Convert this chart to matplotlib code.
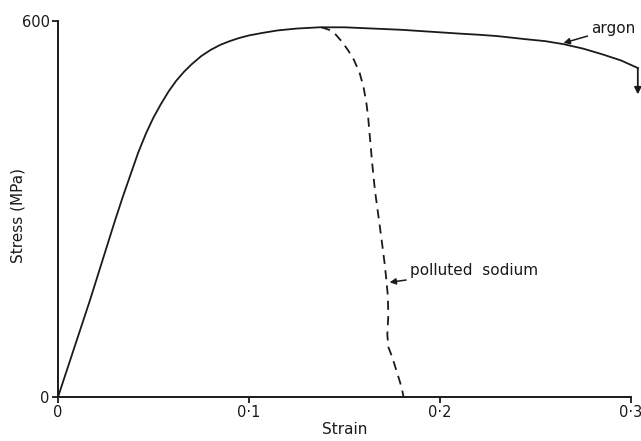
import matplotlib.pyplot as plt

# tensile curves: strain (-) vs stress (MPa)
argon_strain = [0.0, 0.0168, 0.030, 0.034, 0.038, 0.042, 0.046, 0.050,
                0.054, 0.058, 0.062, 0.066, 0.070, 0.075, 0.080, 0.085,
                0.090, 0.095, 0.100, 0.107, 0.115, 0.125, 0.137, 0.150,
                0.165, 0.180, 0.195, 0.210, 0.221, 0.230, 0.245, 0.255,
                0.265, 0.275, 0.285, 0.295, 0.3037]
argon_stress = [0, 155, 283, 320, 355, 390, 420, 446,
                468, 488, 505, 519, 531, 544, 554, 562,
                568, 573, 577, 581, 585, 588, 590, 590,
                588, 586, 583, 580, 578, 576, 571, 568,
                563, 556, 547, 537, 525]
argon_end_stress = 483

sodium_strain = [0.138, 0.142, 0.145, 0.149, 0.152, 0.155, 0.158, 0.160,
                 0.1615, 0.1625, 0.1635, 0.1645, 0.166, 0.168, 0.1695,
                 0.171, 0.172, 0.1728, 0.173, 0.1725, 0.173, 0.175, 0.1775,
                 0.180, 0.181]
sodium_stress = [590, 586, 580, 566, 553, 538, 517, 495,
                 470, 445, 410, 375, 330, 285, 251,
                 215, 187, 160, 130, 100, 80, 64, 40,
                 15, 0]

x_ticks = [0, 0.1, 0.2, 0.3]
x_labels = ['0', '0·1', '0·2', '0·3']
y_ticks = [0, 600]
y_labels = ['0', '600']

ink = '#1a1a1a'
fs = 11
plt.rcParams['font.family'] = ['DejaVu Sans']

fig = plt.figure(figsize=(6.41, 4.41), dpi=100)
ax = fig.add_axes([0.0905, 0.0998, 0.8935, 0.8525])

ax.plot(argon_strain, argon_stress, color=ink, lw=1.3, clip_on=False)
ax.plot(sodium_strain, sodium_stress, color=ink, lw=1.3, ls=(0, (5, 3.5)),
        clip_on=False)

# fracture arrow at the end of the argon curve
ax.annotate('', xy=(argon_strain[-1], argon_end_stress),
            xytext=(argon_strain[-1], argon_stress[-1]),
            arrowprops=dict(arrowstyle='-|>', color=ink, lw=1.3,
                            mutation_scale=10, shrinkA=0, shrinkB=0),
            annotation_clip=False)

ax.annotate('argon', xy=(0.2648, 565), xytext=(0.2795, 588),
            fontsize=fs, color=ink, va='center', ha='left',
            arrowprops=dict(arrowstyle='-|>', color=ink, lw=1.1,
                            mutation_scale=9, shrinkA=1, shrinkB=0),
            annotation_clip=False)
ax.annotate('polluted  sodium', xy=(0.1737, 183), xytext=(0.1845, 202),
            fontsize=fs, color=ink, va='center', ha='left',
            arrowprops=dict(arrowstyle='-|>', color=ink, lw=1.1,
                            mutation_scale=9, shrinkA=1, shrinkB=0))

ax.set_xlim(0, 0.3)
ax.set_ylim(0, 600)
ax.set_xticks(x_ticks, x_labels)
ax.set_yticks(y_ticks, y_labels)
ax.tick_params(direction='out', length=4, width=1.3, colors=ink,
               labelsize=10.5, pad=2)
for side in ('top', 'right'):
    ax.spines[side].set_visible(False)
for side in ('left', 'bottom'):
    ax.spines[side].set_linewidth(1.4)
    ax.spines[side].set_color(ink)

ax.set_xlabel('Strain', fontsize=fs, color=ink, labelpad=1)
fig.text(0.028, 0.512, 'Stress (MPa)', fontsize=fs, color=ink,
         rotation=90, ha='center', va='center')

fig.savefig('out.png', dpi=100)
